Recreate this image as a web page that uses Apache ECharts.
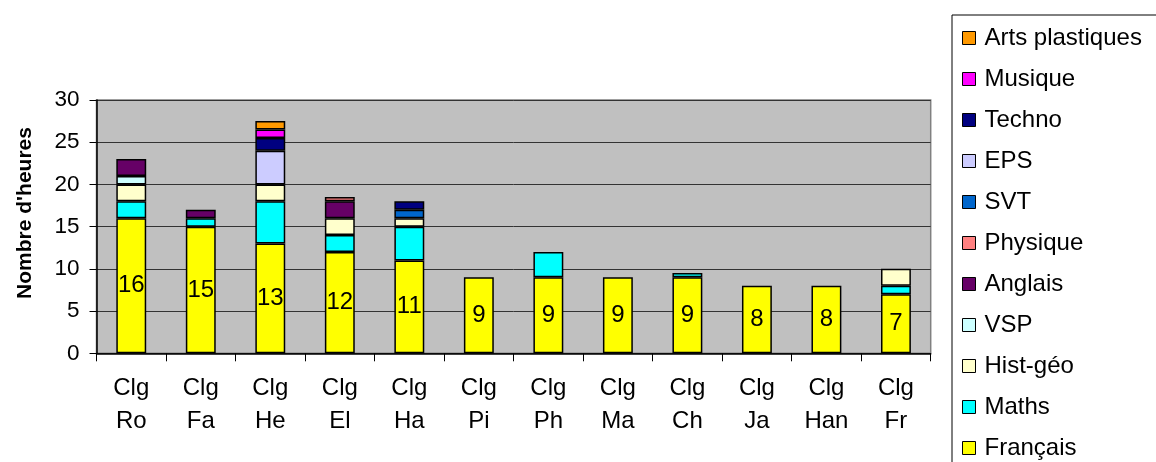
<!DOCTYPE html>
<html><head><meta charset="utf-8">
<script src="https://cdn.jsdelivr.net/npm/echarts@6/dist/echarts.min.js"></script>
<style>html,body{margin:0;padding:0;background:#fff}#c{width:1156px;height:462px}</style>
</head><body><div id="c"></div>
<script>
const categories = ['Clg\nRo','Clg\nFa','Clg\nHe','Clg\nEl','Clg\nHa','Clg\nPi','Clg\nPh','Clg\nMa','Clg\nCh','Clg\nJa','Clg\nHan','Clg\nFr'];
const yTicks = [0,5,10,15,20,25,30];
const francais = [16,15,13,12,11,9,9,9,9,8,8,7];
const maths    = [2,1,5,2,4,null,3,null,0.5,null,null,1];
const histgeo  = [2,null,2,2,1,null,null,null,null,null,null,2];
const vsp      = [1,null,null,null,null,null,null,null,null,null,null,null];
const anglais  = [2,1,null,2,null,null,null,null,null,null,null,null];
const physique = [null,null,null,0.5,null,null,null,null,null,null,null,null];
const svt      = [null,null,null,null,1,null,null,null,null,null,null,null];
const eps      = [null,null,4,null,null,null,null,null,null,null,null,null];
const techno   = [null,null,1.5,null,1,null,null,null,null,null,null,null];
const musique  = [null,null,1,null,null,null,null,null,null,null,null,null];
const arts     = [null,null,1,null,null,null,null,null,null,null,null,null];

const seriesDefs = [
  ['Français', francais, '#FFFF00'],
  ['Maths', maths, '#00FFFF'],
  ['Hist-géo', histgeo, '#FFFFCC'],
  ['VSP', vsp, '#CCFFFF'],
  ['Anglais', anglais, '#660066'],
  ['Physique', physique, '#FF8080'],
  ['SVT', svt, '#0066CC'],
  ['EPS', eps, '#CCCCFF'],
  ['Techno', techno, '#000080'],
  ['Musique', musique, '#FF00FF'],
  ['Arts plastiques', arts, '#FF9900']
];
const FONT = 'Liberation Sans, Arial, sans-serif';
const series = seriesDefs.map(([name, data, color], i) => ({
  name, type: 'bar', stack: 'h', data, barWidth: '43%',
  itemStyle: { color, borderColor: '#000', borderWidth: 1.5 },
  label: i === 0 ? { show: true, position: 'inside', color: '#000', fontSize: 24, fontFamily: FONT } : { show: false },
  emphasis: { disabled: true }
}));

const chart = echarts.init(document.getElementById('c'));
chart.setOption({
  animation: false,
  grid: { left: 96.5, right: 225.3, top: 100, bottom: 108.7, show: true, backgroundColor: '#C0C0C0', borderColor: '#808080', borderWidth: 1.5 },
  legend: {
    orient: 'vertical', left: 952, top: 15, height: 520,
    data: seriesDefs.map(s => s[0]).reverse(),
    icon: 'rect', itemWidth: 13, itemHeight: 13, itemGap: 17,
    padding: [11, 40, 10, 10],
    borderColor: '#000', borderWidth: 1, backgroundColor: '#fff',
    itemStyle: { borderColor: '#000', borderWidth: 1 },
    textStyle: { fontSize: 24, lineHeight: 24, color: '#000', fontFamily: FONT, padding: [0, 0, 0, 4] },
    selectedMode: false
  },
  xAxis: {
    type: 'category', data: categories,
    axisLine: { lineStyle: { color: '#000', width: 1.5 } },
    axisTick: { show: true, length: 8, lineStyle: { color: '#000' } },
    axisLabel: { color: '#000', fontSize: 24, fontFamily: FONT, lineHeight: 33, margin: 19, interval: 0 }
  },
  yAxis: {
    type: 'value', min: 0, max: 30, interval: 5,
    axisLine: { show: true, lineStyle: { color: '#000', width: 1.5 } },
    axisTick: { show: true, length: 7, lineStyle: { color: '#000' } },
    axisLabel: { color: '#000', fontSize: 22.5, fontFamily: FONT, margin: 17,
      formatter: v => yTicks.includes(v) ? String(v) : '' },
    splitLine: { show: true, lineStyle: { color: '#333', width: 1 } }
  },
  graphic: [{
    type: 'text', x: 25, y: 213, rotation: Math.PI / 2,
    style: { text: "Nombre d'heures", fontSize: 21, fontWeight: 'bold', fontFamily: FONT, fill: '#000', align: 'center', verticalAlign: 'middle' }
  }],
  series
});
</script></body></html>
